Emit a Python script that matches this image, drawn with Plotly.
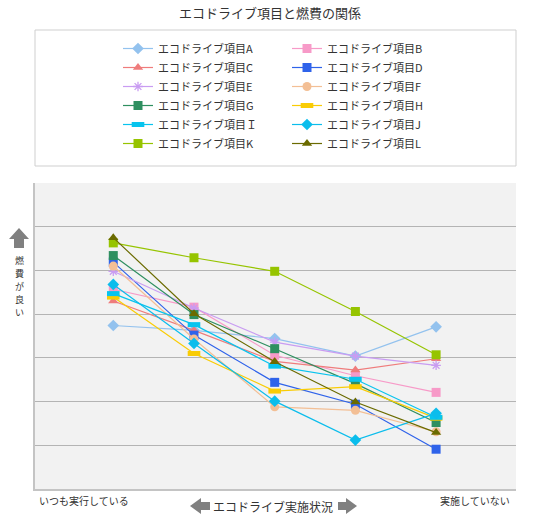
import plotly.graph_objects as go

# practice level: 1 = いつも実行している ... 5 = 実施していない
levels = [1, 2, 3, 4, 5]
end_labels = ["いつも実行している", "実施していない"]
grid_vals = [1, 2, 3, 4, 5, 6]

names = ["エコドライブ項目A", "エコドライブ項目B", "エコドライブ項目C", "エコドライブ項目D",
         "エコドライブ項目E", "エコドライブ項目F", "エコドライブ項目G", "エコドライブ項目H",
         "エコドライブ項目Ｉ", "エコドライブ項目J", "エコドライブ項目K", "エコドライブ項目L"]

item_a = [3.74, 3.63, 3.44, 3.04, 3.71]
item_b = [4.57, 4.16, 3.06, 2.59, 2.21]
item_c = [4.30, 3.63, 2.92, 2.72, 2.98]
item_d = [5.19, 3.52, 2.44, 1.94, 0.91]
item_e = [4.98, 4.14, 3.36, 3.04, 2.83]
item_f = [5.10, 3.43, 1.88, 1.80, 1.31]
item_g = [5.34, 3.99, 3.21, 2.41, 1.52]
item_h = [4.39, 3.10, 2.24, 2.34, 1.62]
item_i = [4.47, 3.76, 2.81, 2.51, 1.64]
item_j = [4.68, 3.33, 2.01, 1.12, 1.73]
item_k = [5.63, 5.29, 4.98, 4.06, 3.07]
item_l = [5.75, 4.01, 2.91, 1.99, 1.29]

series = [item_a, item_b, item_c, item_d, item_e, item_f,
          item_g, item_h, item_i, item_j, item_k, item_l]

colors = ["#93c2ee", "#f79ac8", "#ef7c7c", "#2f63ea", "#c99cf2", "#f3bf95",
          "#2f8f60", "#f9cc05", "#08c4ee", "#0bbdec", "#96c400", "#6b6b00"]
symbols = ["diamond", "square", "triangle-up", "square", "asterisk-open", "circle",
           "square", "line-ew-open", "line-ew-open", "diamond", "square", "triangle-up"]

# plot area in pixels (540x520 page)
L, R, T, B = 35, 516, 183, 489
W, H = 540, 520


def px(x):
    return (x - L) / (R - L)


def py(y):
    return (B - y) / (B - T)


fig = go.Figure()
for name, vals, col, sym in zip(names, series, colors, symbols):
    if sym.startswith("line"):
        marker = dict(symbol=sym, size=9, line=dict(color=col, width=5))
    elif sym.startswith("asterisk"):
        marker = dict(symbol=sym, size=8, line=dict(color=col, width=1.3))
    else:
        marker = dict(symbol=sym, size=9, color=col, line=dict(width=0))
    fig.add_trace(go.Scatter(x=levels, y=vals, name=name, mode="lines+markers",
                             line=dict(color=col, width=1.2), marker=marker))

# grey block arrows
def arrow_path(pts):
    return "M " + " L ".join(f"{px(x)},{py(y)}" for x, y in pts) + " Z"

up = [(19, 228), (29, 239), (24, 239), (24, 248), (14, 248), (14, 239), (9, 239)]
left = [(190, 506), (201, 498), (201, 502), (210, 502), (210, 510), (201, 510), (201, 514)]
right = [(357, 506), (346, 498), (346, 502), (338, 502), (338, 510), (346, 510), (346, 514)]

shapes = [
    dict(type="rect", xref="paper", yref="paper", x0=0, x1=1, y0=py(166), y1=py(30),
         line=dict(color="#cfcfcf", width=1), fillcolor="white", layer="below"),
]
for pts in (up, left, right):
    shapes.append(dict(type="path", xref="paper", yref="paper", path=arrow_path(pts),
                       fillcolor="#808080", line=dict(width=0)))

font = "Noto Sans CJK JP, sans-serif"
annotations = [
    dict(text=end_labels[0], x=px(37), y=py(500), xanchor="left", yanchor="middle",
         font=dict(size=10, color="#333")),
    dict(text=end_labels[1], x=px(512), y=py(500), xanchor="right", yanchor="middle",
         font=dict(size=10, color="#333")),
    dict(text="エコドライブ実施状況", x=px(273), y=py(506), xanchor="center", yanchor="middle",
         font=dict(size=12, color="#333")),
]
# vertical y-axis title, stacked characters
for i, ch in enumerate("燃費が良い"):
    annotations.append(dict(text=ch, x=px(19), y=py(260 + i * 13.2), xanchor="center",
                            yanchor="middle", font=dict(size=9, color="#333")))
for a in annotations:
    a.update(xref="paper", yref="paper", showarrow=False)

fig.update_layout(
    width=W, height=H,
    margin=dict(l=L, r=W - R, t=T, b=H - B, pad=0),
    paper_bgcolor="white", plot_bgcolor="#f2f2f2",
    font=dict(family=font, color="#333"),
    title=dict(text="エコドライブ項目と燃費の関係", x=0.5, xanchor="center",
               y=1 - 13 / H, yanchor="middle", font=dict(size=13, color="#333")),
    showlegend=True,
    legend=dict(orientation="h", x=px(118), y=py(34), xanchor="left", yanchor="top",
                bgcolor="rgba(0,0,0,0)", font=dict(size=11, color="#333"),
                entrywidth=124, traceorder="normal"),
    shapes=shapes, annotations=annotations,
)
fig.update_xaxes(range=[0.03, 5.99], showgrid=False, showticklabels=False, ticks="",
                 zeroline=False, showline=True, linecolor="#c4c4c4", linewidth=2, fixedrange=True)
fig.update_yaxes(range=[0, 7], tickvals=grid_vals, showgrid=True, gridcolor="#b4b4b4",
                 gridwidth=1, showticklabels=False, ticks="", zeroline=False,
                 showline=True, linecolor="#c4c4c4", linewidth=2, fixedrange=True)

fig.write_html("out.html", config={"displayModeBar": False},
               post_script="document.body.style.margin='0';")
